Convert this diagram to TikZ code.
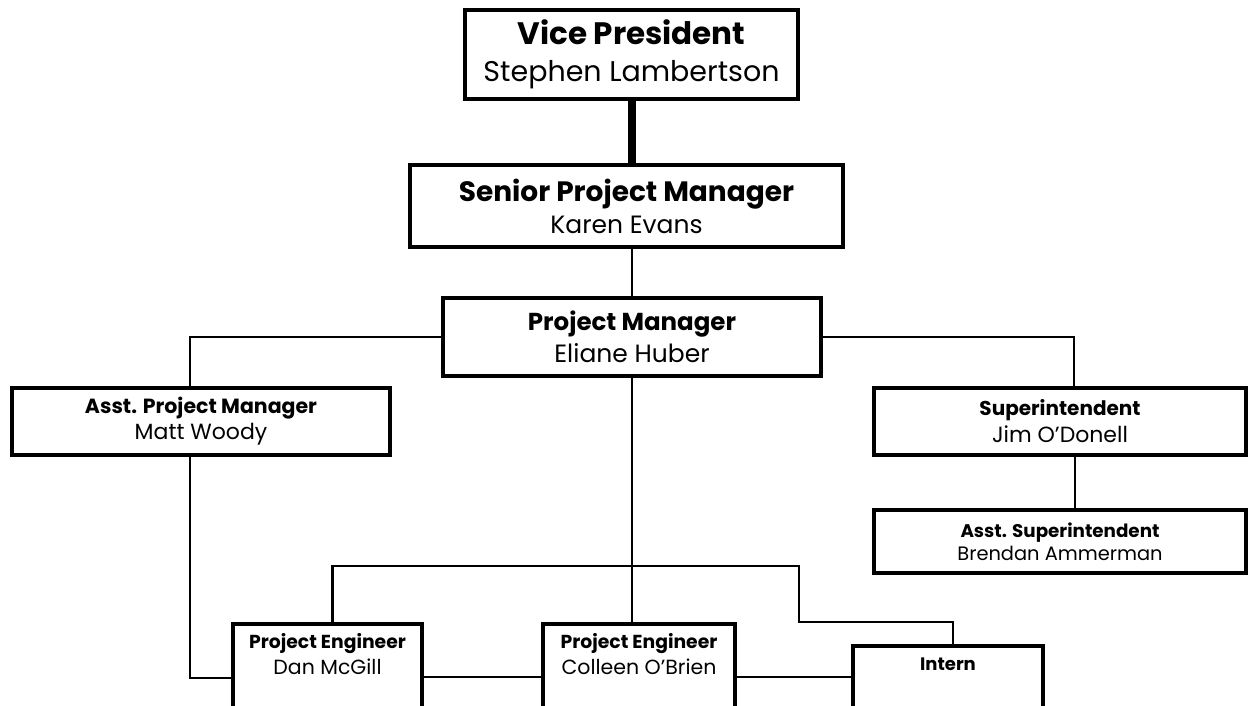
\documentclass[tikz,border=0pt]{standalone}
\usepackage{fontspec}
\setmainfont{Poppins}
\usetikzlibrary{positioning}

\newcommand{\posn}[2]{{\fontsize{#1}{#1}\selectfont\bfseries #2}}
\newcommand{\who}[2]{{\fontsize{#1}{#1}\selectfont #2}}

\tikzset{
  box/.style={draw, line width=3.6pt, rectangle, align=center, inner sep=0pt},
  link/.style={line width=2.3pt},
}

\begin{document}
\begin{tikzpicture}[x=1pt, y=-1pt]
\useasboundingbox (0,0) rectangle (1249,706);
\clip (0,0) rectangle (1249,706);
% top of the chart
\node [box, minimum width=333, minimum height=89, font=\fontsize{28}{37}\selectfont] (vp) at (631.5,54.5) {\posn{31}{Vice President}\\\who{28.5}{Stephen Lambertson}};
\node [box, minimum width=433, minimum height=82, font=\fontsize{25}{32}\selectfont] (spm) at (626.5,206) {\posn{28}{Senior Project Manager}\\\who{25}{Karen Evans}};
\node [box, minimum width=378, minimum height=78, font=\fontsize{24}{32}\selectfont] (pm) at (632,337) {\posn{24.5}{Project Manager}\\\who{25}{Eliane Huber}};
% second row
\node [box, minimum width=378, minimum height=67, font=\fontsize{20}{26}\selectfont] (apm) at (201,421.5) {\posn{20.5}{Asst. Project Manager}\\\who{22}{Matt Woody}};
\node [box, minimum width=372, minimum height=67, font=\fontsize{20}{27}\selectfont] (sup) at (1060,421.5) {\posn{20}{Superintendent}\\\who{22}{Jim O’Donell}};
\node [box, minimum width=372, minimum height=63, font=\fontsize{18}{23}\selectfont] (asup) at (1060,541.5) {\posn{18.3}{Asst. Superintendent}\\\who{19.4}{Brendan Ammerman}};
% bottom row, cut off by the page
\node [box, anchor=north, minimum width=189, inner ysep=10pt, text depth=70pt, font=\fontsize{18}{26}\selectfont] (pe1) at (327.5,622) {\posn{18.8}{Project Engineer}\\\who{20.5}{Dan McGill}};
\node [box, anchor=north, minimum width=192, inner ysep=10pt, text depth=70pt, font=\fontsize{18}{26}\selectfont] (pe2) at (639,622) {\posn{18.8}{Project Engineer}\\\who{20.5}{Colleen O’Brien}};
\node [box, anchor=north, minimum width=190, inner ysep=12pt, text depth=70pt, font=\fontsize{18}{26}\selectfont] (intern) at (948,644) {\posn{18}{Intern}};
\coordinate (bus) at (799,566);
\coordinate (jog) at (953,622);

\draw [line width=8pt] (vp.south) -- (vp.south |- spm.north);
\draw [link] (pm.north |- spm.south) -- (pm.north);
\draw [link] (pm.west) -| ([xshift=-11pt]apm.north);
\draw [link] (pm.east) -| ([xshift=14pt]sup.north);
\draw [link] ([xshift=15pt]sup.south) -- ([xshift=15pt]asup.north);
\draw [link] ([xshift=-11pt]apm.south) |- ([yshift=-56pt]pe1.north west);
\draw [link] (pm.south) -- (pm.south |- pe2.north);
\draw [link] ([xshift=5pt]pe1.north) |- (bus) |- (jog) -- (jog |- intern.north);
\draw [link] ([yshift=-55pt]pe1.north east) -- ([yshift=-55pt]pe2.north west);
\draw [link] ([yshift=-55pt]pe2.north east) -- ([yshift=-33pt]intern.north west);
\end{tikzpicture}
\end{document}
